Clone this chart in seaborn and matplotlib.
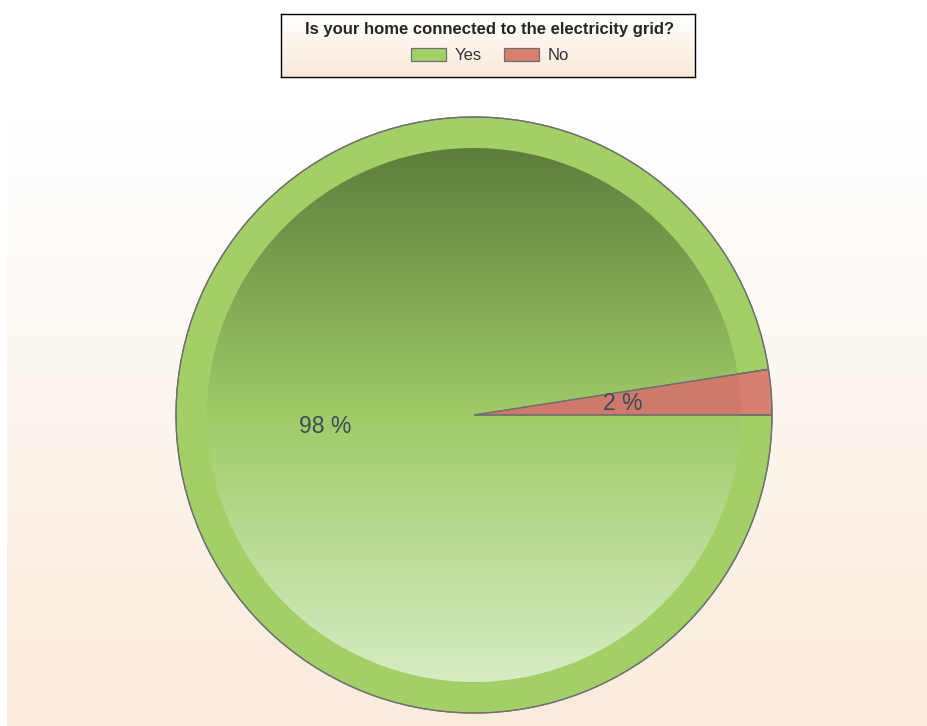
import numpy as np
import matplotlib
matplotlib.use('Agg')
import matplotlib.pyplot as plt
import seaborn as sns

# Data
labels = ['Yes', 'No']
shares = [97.55, 2.45]
title = 'Is your home connected to the electricity grid?'

sns.set_style('white')
plt.rcParams['font.family'] = ['Liberation Sans', 'DejaVu Sans']

W, H = 928, 726
fig = plt.figure(figsize=(W / 100, H / 100), dpi=100)
ax = fig.add_axes([0, 0, 1, 1])

# Background panel with soft vertical gradient
bg_cmap = sns.blend_palette(['#FFFFFF', '#FAEBDC'], as_cmap=True)
grad = np.linspace(0, 1, 256).reshape(-1, 1)
ax.imshow(grad, cmap=bg_cmap, aspect='auto', origin='upper',
          extent=[7, W, 0, H - 115], zorder=0)

cx, cy = 474, H - 415
r_out, r_in = 298, 267
ring_colors = ['#A3CF67', '#D8806F']
start = 360 * shares[1] / sum(shares)

# Outer ring (full pie) with labels
wedges, texts, autotexts = ax.pie(
    shares, colors=ring_colors, center=(cx, cy), radius=r_out,
    startangle=start, counterclock=True,
    autopct=lambda p: f'{p:.0f} %', pctdistance=0.5,
    wedgeprops=dict(edgecolor='#6F6F6F', linewidth=0.9),
    textprops=dict(color='#3B4B57', fontsize=16.5))
for w in wedges:
    w.set_zorder(1)
for t in autotexts:
    t.set_zorder(5)

# Inner part with gradient
inner, _ = ax.pie(shares, colors=['#A3CF67', '#CE7A6A'], center=(cx, cy),
                  radius=r_in, startangle=start, counterclock=True,
                  wedgeprops=dict(linewidth=0))
for w in inner:
    w.set_zorder(2)
pie_cmap = sns.blend_palette(['#5E7D3C', '#A0CB68', '#D7ECC3'], as_cmap=True)
im = ax.imshow(grad, cmap=pie_cmap, aspect='auto', origin='upper',
               extent=[cx - r_in, cx + r_in, cy - r_in, cy + r_in], zorder=3)
im.set_clip_path(inner[0])
# keep the edge line of the small slice visible above the gradient
ax.pie(shares, colors=['none', 'none'], center=(cx, cy), radius=r_out,
       startangle=start, counterclock=True,
       wedgeprops=dict(edgecolor='#6F6F6F', linewidth=0.9, zorder=4))

ax.set_xlim(0, W)
ax.set_ylim(0, H)
ax.set_aspect('auto')
ax.axis('off')

# Legend box (gradient filled, black border)
bx0, by0, bx1, by1 = 281, 14, 695, 77
box = fig.add_axes([bx0 / W, 1 - by1 / H, (bx1 - bx0) / W, (by1 - by0) / H])
box.imshow(grad, cmap=sns.blend_palette(['#FFFFFF', '#FBE9D8'], as_cmap=True),
           aspect='auto', origin='upper', extent=[0, 1, 0, 1])
box.set_xticks([])
box.set_yticks([])
for s in box.spines.values():
    s.set_visible(True)
    s.set_color('black')
    s.set_linewidth(1.0)

leg = fig.legend(wedges, labels, title=title, loc='center',
                 bbox_to_anchor=(490 / W, 1 - 42.5 / H), ncol=2,
                 frameon=False, fontsize=12, handlelength=2.1,
                 handleheight=0.78, handletextpad=0.48, columnspacing=1.38,
                 borderpad=0.0, labelspacing=0.7)
leg.get_title().set_fontweight('bold')
leg.get_title().set_fontsize(12)
leg.set_zorder(10)
for t in leg.get_texts():
    t.set_color('#333333')

fig.savefig('out.png', dpi=100)
